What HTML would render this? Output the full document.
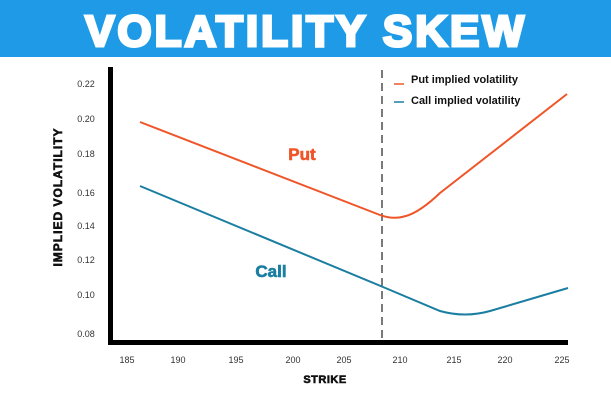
<!DOCTYPE html>
<html><head><style>
body{margin:0;width:611px;height:400px;background:#fff;overflow:hidden;font-family:"Liberation Sans",sans-serif}
</style></head><body>
<svg width="611" height="400" xmlns="http://www.w3.org/2000/svg">
<rect x="0" y="0" width="611" height="57" fill="#1e9ae6"/>
<text x="306" y="46" text-anchor="middle" font-family="Liberation Sans" font-weight="bold" font-size="44" fill="#fff" stroke="#fff" stroke-width="3" letter-spacing="3">VOLATILITY SKEW</text>
<g font-family="Liberation Sans" font-size="9" fill="#333" text-anchor="middle">
<text x="86" y="87">0.22</text><text x="86" y="122">0.20</text><text x="86" y="157">0.18</text><text x="86" y="196">0.16</text><text x="86" y="229">0.14</text><text x="86" y="263">0.12</text><text x="86" y="298">0.10</text><text x="86" y="337">0.08</text>
<text x="127" y="363">185</text><text x="178" y="363">190</text><text x="236" y="363">195</text><text x="293" y="363">200</text><text x="344" y="363">205</text><text x="400" y="363">210</text><text x="454" y="363">215</text><text x="505" y="363">220</text><text x="562" y="363">225</text>
</g>
<text x="325" y="383" text-anchor="middle" font-weight="bold" font-size="11" fill="#111" stroke="#111" stroke-width="0.6" letter-spacing="0.5">STRIKE</text>
<text transform="translate(62,197) rotate(-90)" text-anchor="middle" font-weight="bold" font-size="12" fill="#111" stroke="#111" stroke-width="0.6" letter-spacing="1">IMPLIED VOLATILITY</text>
<line x1="382" y1="70" x2="382" y2="340" stroke="#333" stroke-width="1.3" stroke-dasharray="8,5"/>
<rect x="108" y="67" width="5" height="278" fill="#000"/>
<rect x="108" y="340" width="460" height="5" fill="#000"/>
<path d="M140,122 L380,215 Q393,220 406,216 Q420,212 440,193 L567,94" fill="none" stroke="#ef5528" stroke-width="2"/>
<path d="M140,186 L383,287 L440,311 Q465,318 490,311 L568,288" fill="none" stroke="#1a7ea2" stroke-width="2"/>
<text x="302" y="160" text-anchor="middle" font-weight="bold" font-size="17" fill="#ef5528" stroke="#ef5528" stroke-width="0.6">Put</text>
<text x="271" y="277" text-anchor="middle" font-weight="bold" font-size="17" fill="#1a7ea2" stroke="#1a7ea2" stroke-width="0.6">Call</text>
<line x1="394" y1="84" x2="404" y2="84" stroke="#ef5528" stroke-width="1.5"/>
<line x1="394" y1="102" x2="404" y2="102" stroke="#1a7ea2" stroke-width="1.5"/>
<text x="411" y="83" font-weight="bold" font-size="11" fill="#111">Put implied volatility</text>
<text x="411" y="104" font-weight="bold" font-size="11" fill="#111">Call implied volatility</text>
</svg>
</body></html>
